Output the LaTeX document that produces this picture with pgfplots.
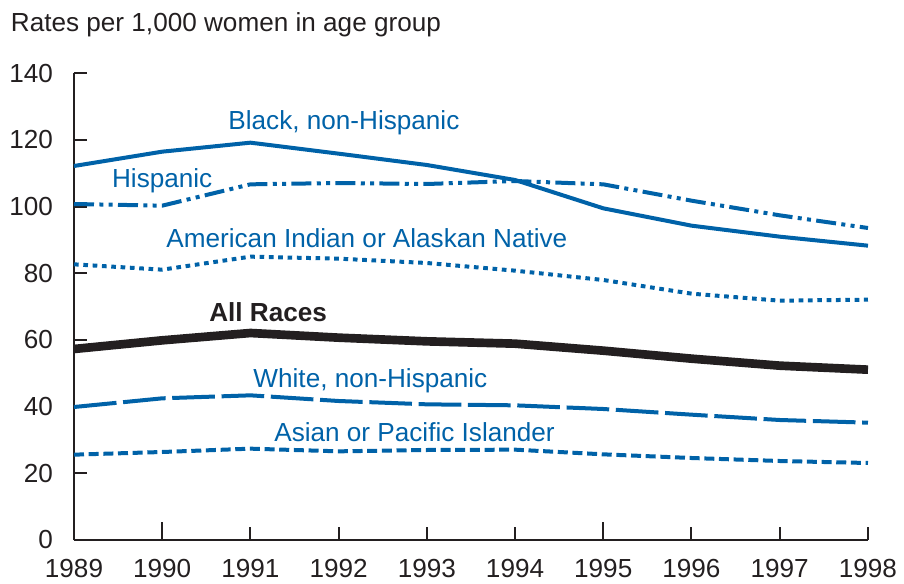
\documentclass[border=0pt]{standalone}
\usepackage{fontspec}
\setmainfont{Liberation Sans}
\usepackage{pgfplots}
\pgfplotsset{compat=1.18}
\definecolor{bl}{RGB}{0,98,168}
\definecolor{dk}{RGB}{35,31,32}
\begin{document}
\fontsize{19.6pt}{23pt}\selectfont
\begin{tikzpicture}
\path[use as bounding box] (-55.5pt,-32.25pt) rectangle (622.5pt,405pt);
\node[anchor=north west, inner sep=0pt, text=dk] at (-47.5pt,395.5pt) {Rates per 1,000 women in age group};
\begin{axis}[
  scale only axis, width=595.5pt, height=350pt,
  at={(0pt,0pt)}, anchor=south west,
  xmin=1989, xmax=1998, ymin=0, ymax=140,
  axis lines*=left,
  axis line style={dk, line width=1.5pt},
  tick style={dk, line width=1.5pt},
  tick align=inside,
  major tick length=9.5pt,
  xtick={1989,...,1998}, ytick={0,20,...,140},
  x tick label style={/pgf/number format/1000 sep={}, yshift=-8pt},
  y tick label style={xshift=-9pt},
  ticklabel style={font=\fontsize{19.6pt}{23pt}\selectfont, text=dk},
  /pgf/number format/assume math mode=true,
  extra x ticks={1990,1995},
  extra x tick labels={},
  extra x tick style={major tick length=13.75pt},
  clip=false,
  every axis plot/.append style={line cap=butt, line join=round},
]
% Black, non-Hispanic
\addplot[bl, line width=3pt] coordinates {
 (1989,112.2) (1990,116.5) (1991,119.2) (1992,115.9) (1993,112.5)
 (1994,108.0) (1995,99.5) (1996,94.3) (1997,91.0) (1998,88.3)};
% Hispanic
\addplot[bl, line width=3pt, dash pattern=on 15pt off 4pt on 3pt off 4pt on 3pt off 4pt] coordinates {
 (1989,100.8) (1990,100.3) (1991,106.7) (1992,107.1) (1993,106.8)
 (1994,107.7) (1995,106.7) (1996,101.8) (1997,97.4) (1998,93.6)};
% American Indian or Alaskan Native
\addplot[bl, line width=3pt, dash pattern=on 3.5pt off 3.5pt] coordinates {
 (1989,82.7) (1990,81.1) (1991,85.0) (1992,84.4) (1993,83.1)
 (1994,80.8) (1995,78.0) (1996,73.9) (1997,71.8) (1998,72.1)};
% All Races
\addplot[dk, line width=6.5pt] coordinates {
 (1989,57.3) (1990,59.9) (1991,62.1) (1992,60.7) (1993,59.6)
 (1994,58.9) (1995,56.8) (1996,54.4) (1997,52.3) (1998,51.1)};
% White, non-Hispanic
\addplot[bl, line width=3pt, dash pattern=on 32pt off 5pt] coordinates {
 (1989,39.9) (1990,42.5) (1991,43.4) (1992,41.7) (1993,40.7)
 (1994,40.4) (1995,39.3) (1996,37.6) (1997,36.0) (1998,35.2)};
% Asian or Pacific Islander
\addplot[bl, line width=3pt, dash pattern=on 7.5pt off 3.5pt] coordinates {
 (1989,25.6) (1990,26.4) (1991,27.4) (1992,26.6) (1993,27.0)
 (1994,27.1) (1995,25.7) (1996,24.6) (1997,23.7) (1998,23.1)};

\node[anchor=base, text=bl, inner sep=0pt] at (axis cs:1992.06,123.1) {Black, non-Hispanic};
\node[anchor=base, text=bl, inner sep=0pt] at (axis cs:1990.0,105.8) {Hispanic};
\node[anchor=base, text=bl, inner sep=0pt] at (axis cs:1992.32,87.9) {American Indian or Alaskan Native};
\node[anchor=base, text=dk, inner sep=0pt, font=\bfseries] at (axis cs:1991.2,65.7) {All Races};
\node[anchor=base, text=bl, inner sep=0pt] at (axis cs:1992.36,45.9) {White, non-Hispanic};
\node[anchor=base, text=bl, inner sep=0pt] at (axis cs:1992.86,29.5) {Asian or Pacific Islander};
\end{axis}
\end{tikzpicture}
\end{document}
